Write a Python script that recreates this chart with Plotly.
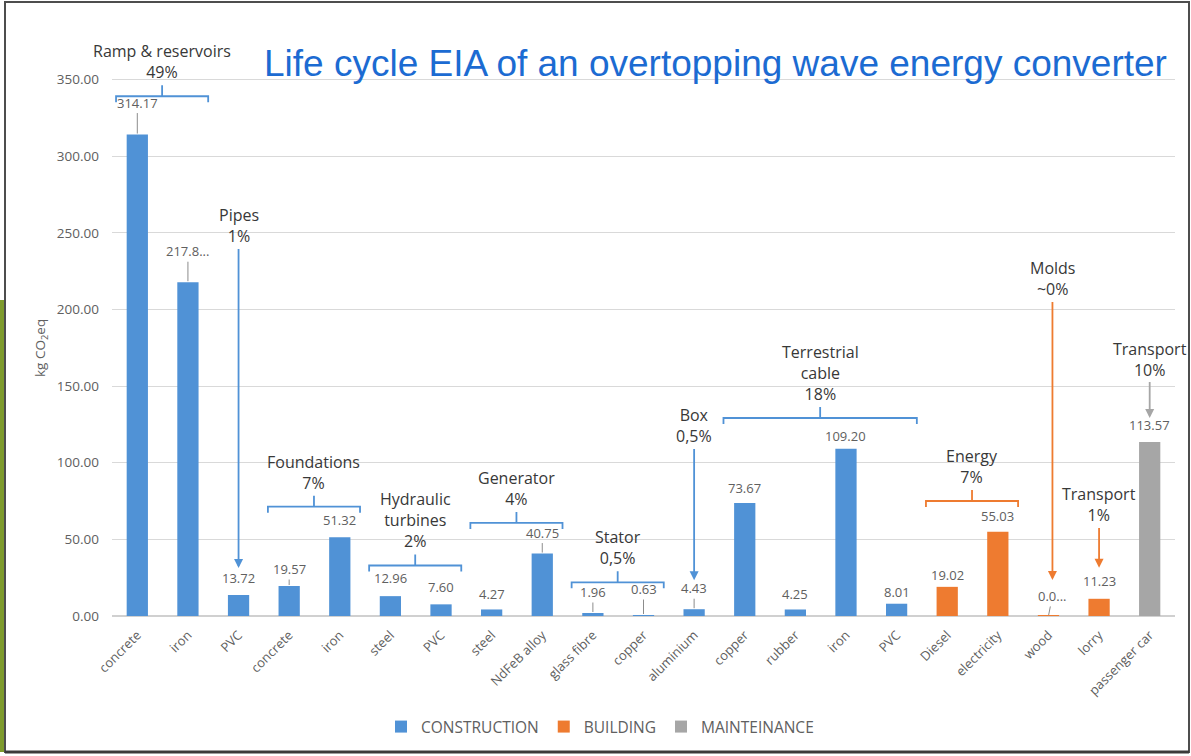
import plotly.graph_objects as go

# ---------------- data ----------------
categories = ["concrete", "iron", "PVC", "concrete", "iron", "steel", "PVC", "steel",
              "NdFeB alloy", "glass fibre", "copper", "aluminium", "copper", "rubber",
              "iron", "PVC", "Diesel", "electricity", "wood", "lorry", "passenger car"]
values = [314.17, 217.8, 13.72, 19.57, 51.32, 12.96, 7.60, 4.27, 40.75, 1.96, 0.63,
          4.43, 73.67, 4.25, 109.20, 8.01, 19.02, 55.03, 0.03, 11.23, 113.57]
value_labels = ["314.17", "217.8...", "13.72", "19.57", "51.32", "12.96", "7.60", "4.27",
                "40.75", "1.96", "0.63", "4.43", "73.67", "4.25", "109.20", "8.01",
                "19.02", "55.03", "0.0...", "11.23", "113.57"]
phases = ["CONSTRUCTION"] * 16 + ["BUILDING"] * 4 + ["MAINTEINANCE"]
phase_names = ["CONSTRUCTION", "BUILDING", "MAINTEINANCE"]

bracket_groups = [("Ramp & reservoirs<br>49%", 0, 1),
                  ("Foundations<br>7%", 3, 4),
                  ("Hydraulic<br>turbines<br>2%", 5, 6),
                  ("Generator<br>4%", 7, 8),
                  ("Stator<br>0,5%", 9, 10),
                  ("Terrestrial<br>cable<br>18%", 12, 15),
                  ("Energy<br>7%", 16, 17)]
arrow_groups = [("Pipes<br>1%", 2), ("Box<br>0,5%", 11), ("Molds<br>~0%", 18),
                ("Transport<br>1%", 19), ("Transport<br>10%", 20)]
y_ticks = [0, 50, 100, 150, 200, 250, 300, 350]

# ---------------- style ----------------
colors = {"CONSTRUCTION": "#5092D6", "BUILDING": "#EE7B30", "MAINTEINANCE": "#A6A6A6"}
FONT = "Open Sans"
TXT = "#383838"
GRAY = "#606060"
L, R, T, B = 112, 16, 26, 140
W, H = 1191, 756
YMAX = 385
PPU = (H - T - B) / YMAX  # pixels per y unit

label_dy = [-32, -31, -17, -17, -17, -18, -17, -15, -21, -21, -26, -21, -15, -15, -13,
            -12, -12, -16, -20, -18, -17]
label_dx = [0] * 18 + [4, 0, 0]
leader = [1, 1, 0, 1, 0, 0, 0, 0, 1, 1, 1, 1, 0, 0, 0, 0, 0, 0, 1, 0, 0]
bracket_pad = {0: 25}
arrow_style = {2: (27, 226), 11: (29, 426), 18: (36, 279), 19: (31, 505), 20: (24, 359)}


def px_x(p):
    return (p - L) / (W - L - R)


def px_y(p):
    return (H - B - p) / (H - T - B)


fig = go.Figure()
for ph in phase_names:
    idx = [i for i, p in enumerate(phases) if p == ph]
    fig.add_trace(go.Bar(
        x=idx, y=[values[i] for i in idx], name=ph,
        marker=dict(color=colors[ph], line=dict(width=0)), width=0.42,
        hoverinfo="y"))

ann = []
# value labels
for i, v in enumerate(values):
    ann.append(dict(x=i, y=v, xref="x", yref="y", text=value_labels[i],
                    showarrow=True, ax=label_dx[i], ay=label_dy[i], axref="pixel", ayref="pixel",
                    arrowhead=0, arrowwidth=1,
                    arrowcolor="#8C8C8C" if leader[i] else "rgba(0,0,0,0)",
                    standoff=1,
                    font=dict(family=FONT, size=13, color=GRAY)))

shapes = []
# brackets
for text, a, b in bracket_groups:
    col = colors[phases[a]]
    yb = max(values[a:b + 1]) + bracket_pad.get(a, 20)
    x0, x1 = a - 0.42, b + 0.4
    xc = (x0 + x1) / 2
    end = 6 / PPU
    up = 11 / PPU
    path = (f"M {x0},{yb - end} L {x0},{yb} L {x1},{yb} L {x1},{yb - end} "
            f"M {xc},{yb} L {xc},{yb + up}")
    shapes.append(dict(type="path", path=path, xref="x", yref="y",
                       line=dict(color=col, width=1.8)))
    ann.append(dict(x=xc, y=yb + up, xref="x", yref="y", text=text, showarrow=False,
                    yanchor="bottom", yshift=0,
                    font=dict(family=FONT, size=16, color=TXT)))

# arrow labels
for text, i in arrow_groups:
    col = colors[phases[i]]
    pad, ty = arrow_style[i]
    tip_px = (H - B) - values[i] * PPU - pad
    ann.append(dict(x=i, y=values[i], xref="x", yref="y", yshift=pad,
                    xshift=4 if i == 18 else 0,
                    text=text, showarrow=True, ax=0, ay=ty - tip_px,
                    axref="pixel", ayref="pixel",
                    arrowhead=2, arrowsize=1, arrowwidth=1.8, arrowcolor=col,
                    font=dict(family=FONT, size=16, color=TXT)))

# title
ann.append(dict(x=px_x(715), y=px_y(64), xref="paper", yref="paper",
                text="Life cycle EIA of an overtopping wave energy converter",
                showarrow=False, xanchor="center", yanchor="middle",
                font=dict(family="Liberation Sans, Arial", size=37, color="#1C6BD2")))
# y axis title
ann.append(dict(x=px_x(41), y=px_y(348), xref="paper", yref="paper",
                text="kg CO<sub>2</sub>eq", textangle=-90, showarrow=False,
                xanchor="center", yanchor="middle",
                font=dict(family=FONT, size=13.5, color=GRAY)))

# frame and green edge
shapes.append(dict(type="rect", xref="paper", yref="paper",
                   x0=px_x(0), x1=px_x(6), y0=px_y(752), y1=px_y(300),
                   fillcolor="#7E9B2D", line=dict(width=0), layer="above"))
shapes.append(dict(type="rect", xref="paper", yref="paper",
                   x0=px_x(5), x1=px_x(1189), y0=px_y(752), y1=px_y(2),
                   line=dict(color="#4D4D4D", width=2), fillcolor="rgba(0,0,0,0)"))
shapes.append(dict(type="line", xref="paper", yref="paper",
                   x0=px_x(5), x1=px_x(1189), y0=px_y(752), y1=px_y(752),
                   line=dict(color="#3A3A3A", width=3)))

fig.update_layout(
    width=W, height=H,
    margin=dict(l=L, r=R, t=T, b=B),
    paper_bgcolor="white", plot_bgcolor="white",
    barmode="overlay",
    font=dict(family=FONT, color=GRAY),
    showlegend=True,
    legend=dict(orientation="h", x=px_x(600), xanchor="center", y=px_y(727),
                yanchor="middle", font=dict(family=FONT, size=15.5, color=GRAY),
                itemwidth=30, tracegroupgap=0),
    annotations=ann, shapes=shapes,
    xaxis=dict(range=[-0.5, 20.5], tickvals=list(range(len(categories))),
               ticktext=categories, tickangle=-45, showgrid=False, zeroline=False,
               showline=False, ticks="", ticklabelstandoff=8,
               tickfont=dict(family=FONT, size=13, color=GRAY)),
    yaxis=dict(range=[0, YMAX], tickvals=y_ticks, tickformat=".2f",
               showgrid=True, gridcolor="#D9D9D9", gridwidth=1.2, zeroline=True,
               zerolinecolor="#D0D0D0", showline=False, ticks="",
               tickfont=dict(family=FONT, size=13.5, color=GRAY), ticklabelstandoff=12),
)

fig.write_html("out.html", post_script="document.body.style.margin='0';",
               config={"displayModeBar": False})
